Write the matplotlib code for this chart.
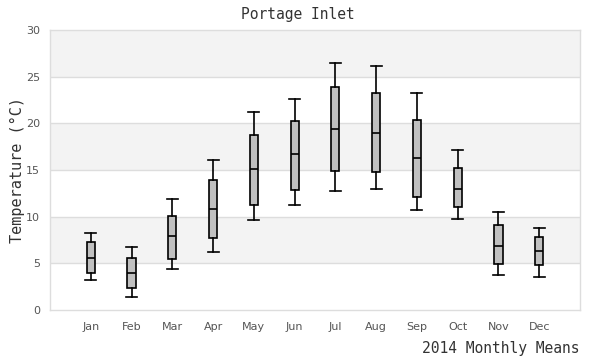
import matplotlib
matplotlib.use("Agg")
import matplotlib.pyplot as plt

months = ["Jan", "Feb", "Mar", "Apr", "May", "Jun", "Jul", "Aug", "Sep", "Oct", "Nov", "Dec"]
whisker_low = [3.2, 1.4, 4.4, 6.2, 9.6, 11.3, 12.8, 13.0, 10.7, 9.7, 3.7, 3.5]
q1 = [4.0, 2.4, 5.5, 7.7, 11.3, 12.9, 14.9, 14.8, 12.1, 11.0, 4.9, 4.8]
median = [5.6, 4.0, 7.9, 10.8, 15.1, 16.7, 19.4, 19.0, 16.3, 13.0, 6.9, 6.3]
q3 = [7.3, 5.6, 10.1, 13.9, 18.7, 20.3, 23.9, 23.3, 20.4, 15.2, 9.1, 7.8]
whisker_high = [8.3, 6.7, 11.9, 16.1, 21.2, 22.6, 26.5, 26.1, 23.2, 17.1, 10.5, 8.8]
yticks = [0, 5, 10, 15, 20, 25, 30]

fig = plt.figure(figsize=(6, 3.6), dpi=100)
ax = fig.add_axes([50/600, 50/360, 530/600, 280/360])

# alternating bands
for i in range(len(yticks) - 1):
    if i % 2 == 1:
        ax.axhspan(yticks[i], yticks[i+1], color="#f3f3f3", zorder=0, lw=0)
for t in yticks[1:-1]:
    ax.axhline(t, color="#dddddd", lw=1, zorder=1)

stats = []
for i in range(len(months)):
    stats.append(dict(whislo=whisker_low[i], q1=q1[i], med=median[i], q3=q3[i],
                      whishi=whisker_high[i], fliers=[], label=months[i]))
positions = list(range(1, len(months) + 1))
ax.bxp(stats, positions=positions, widths=0.2, patch_artist=True, showfliers=False,
       boxprops=dict(facecolor="#c0c0c0", edgecolor="black", linewidth=1.2),
       medianprops=dict(color="black", linewidth=1.2),
       whiskerprops=dict(color="black", linewidth=1.2),
       capprops=dict(color="black", linewidth=1.2),
       capwidths=0.27, zorder=3)

ax.set_xlim(0, 13)
ax.set_ylim(0, 30)
ax.set_yticks(yticks)
ax.set_xticks(positions)
ax.set_xticklabels(months)
ax.tick_params(axis="both", length=0, labelsize=8, colors="#555555")
ax.tick_params(axis="x", pad=9)
ax.tick_params(axis="y", pad=7)
for s in ax.spines.values():
    s.set_color("#dddddd")
    s.set_linewidth(1)

mono = "DejaVu Sans Mono"
fig.text(298/600, 1 - 14/360, "Portage Inlet", ha="center", va="center",
         family=mono, fontsize=10.5, color="#333333")
fig.text(580/600, 1 - 348/360, "2014 Monthly Means", ha="right", va="center",
         family=mono, fontsize=10.5, color="#333333")
fig.text(17/600, 1 - 170/360, "Temperature (°C)", ha="center", va="center",
         rotation=90, family=mono, fontsize=11, color="#333333")

fig.savefig("out.png", dpi=100)
